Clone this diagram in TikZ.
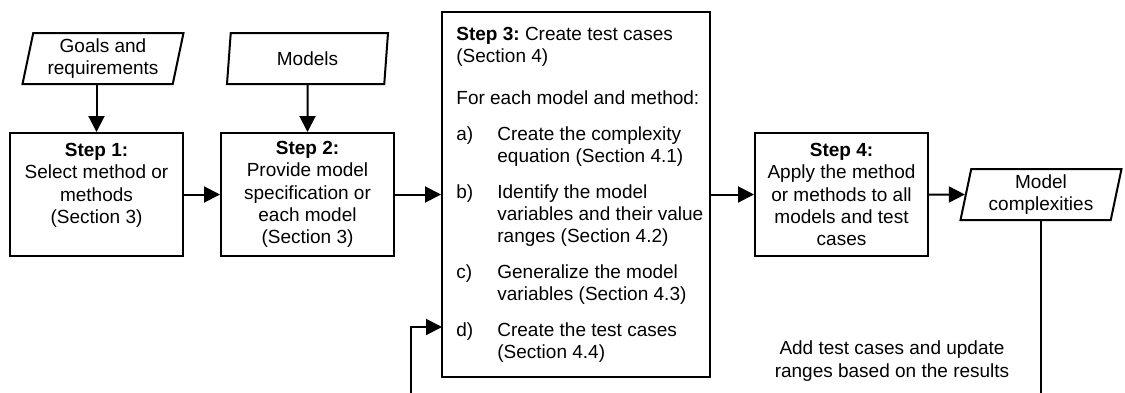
\documentclass[tikz,border=0pt]{standalone}
\usepackage{fontspec}
\setmainfont{Liberation Sans}
\usetikzlibrary{arrows.meta,shapes.geometric,calc}

\tikzset{
  boxfont/.style={font=\fontsize{9.5}{11.2}\selectfont},
  stepbox/.style={draw, line width=1pt, minimum width=86.5pt, minimum height=61.5pt,
    align=center, inner sep=0pt, boxfont},
  databox/.style={draw, line width=1pt, trapezium, trapezium left angle=75,
    trapezium right angle=105, trapezium stretches body, minimum width=80.5pt,
    minimum height=25.5pt, align=center, inner sep=0pt, boxfont},
  arr/.style={-{Triangle[length=8pt,width=8pt]}, line width=1pt},
}

\begin{document}
\begin{tikzpicture}[x=0.5pt,y=-0.5pt]
  % picture frame (px of the original, y downwards)
  \useasboundingbox (0,0) rectangle (1125,392);

  % Inputs
  \node[databox] (goals) at (103,58.5) {Goals and\\requirements};
  \node[databox] (models) at (307.5,58.5) {Models};

  % Steps 1, 2 and 4
  \node[stepbox] (step1) at (96.5,194.5) {\textbf{Step 1:}\\Select method or\\methods\\(Section 3)\\\mbox{}};
  \node[stepbox] (step2) at (307.5,194.5) {\textbf{Step 2:}\\Provide model\\specification or\\each model\\(Section 3)};
  \node[stepbox] (step4) at (841.5,194.5) {\textbf{Step 4:}\\Apply the method\\or methods to all\\models and test\\cases};

  % Step 3: big box with the list
  \node[stepbox, minimum width=134pt, minimum height=182.5pt] (step3) at (576,194.5) {};
  \node[anchor=north west, inner sep=0pt, boxfont] (step3list) at (456,24) {%
    \begin{tabular}{@{}p{20.5pt}@{}l@{}}
      \multicolumn{2}{@{}l@{}}{\textbf{Step 3:}~Create test cases}\\
      \multicolumn{2}{@{}l@{}}{(Section 4)}\\[10pt]
      \multicolumn{2}{@{}l@{}}{For each model and method:}\\[6.5pt]
      a) & Create the complexity\\
         & equation (Section 4.1)\\[6.5pt]
      b) & Identify the model\\
         & variables and their value\\
         & ranges (Section 4.2)\\[6.5pt]
      c) & Generalize the model\\
         & variables (Section 4.3)\\[6.5pt]
      d) & Create the test cases\\
         & (Section 4.4)
    \end{tabular}};

  % Output
  \node[databox] (cplx) at (1041,194.5) {Model\\complexities};

  % Feedback label
  \node[boxfont, align=center] (note) at (892,361) {Add test cases and update\\ranges based on the results};

  % Connectors
  \draw[arr] (goals.south -| step1.north) -- (step1.north);
  \draw[arr] (models) -- (step2);
  \draw[arr] (step1) -- (step2);
  \draw[arr] (step2) -- (step3);
  \draw[arr] (step3) -- (step4);
  \draw[arr] (step4) -- (cplx);

  % Feedback loop back into d)
  \coordinate (loopbot) at (411,400);
  \coordinate (dentry) at (442,327);
  \draw[arr] (cplx.south -| cplx.center) |- (loopbot) |- (dentry);
\end{tikzpicture}
\end{document}
